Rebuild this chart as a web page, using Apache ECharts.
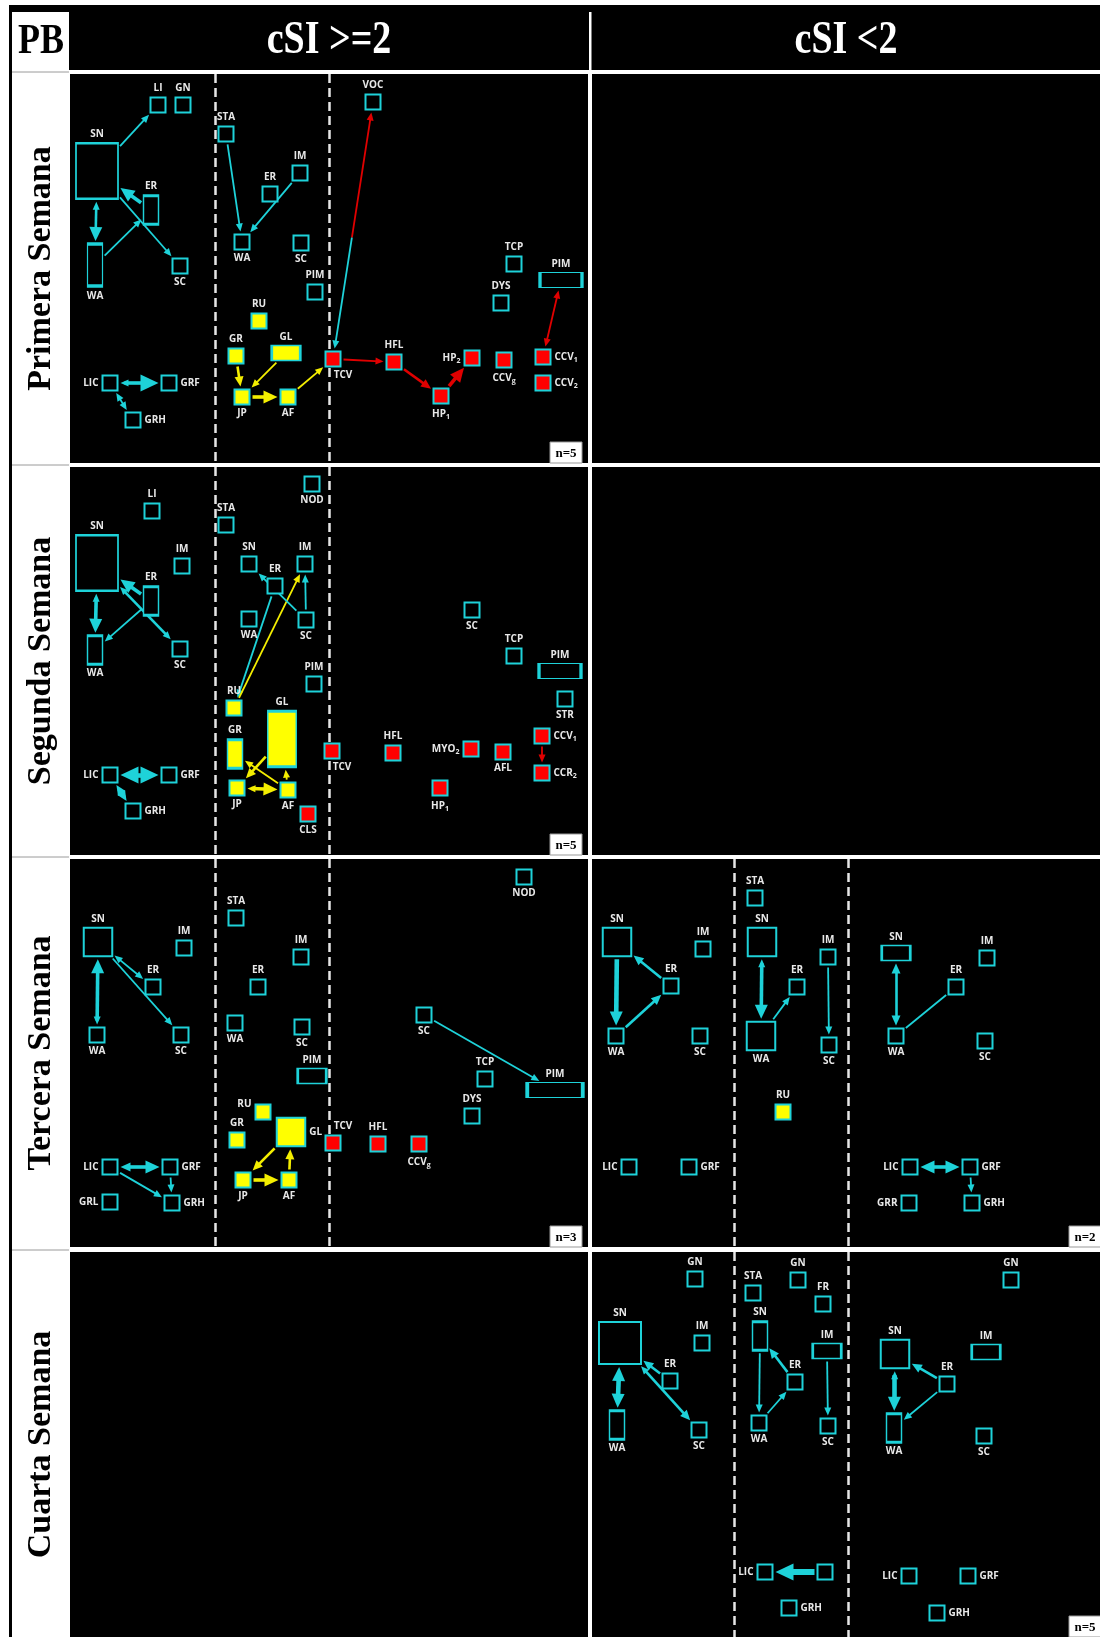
<!DOCTYPE html>
<html lang="es">
<head>
<meta charset="utf-8">
<title>PB · cSI</title>
<script src="https://cdn.jsdelivr.net/npm/echarts@6.0.0/dist/echarts.min.js"></script>
<style>
  html, body { margin: 0; padding: 0; background: #ffffff; }
  #chart { width: 1100px; height: 1637px; }
</style>
</head>
<body>
<div id="chart"></div>
<script>
// ---------- Headings ----------
const cornerLabel = 'PB';
const columnTitles = ['cSI >=2', 'cSI <2'];
const rowTitles = ['Primera Semana', 'Segunda Semana', 'Tercera Semana', 'Cuarta Semana'];
const sampleSizes = { w1hi: 'n=5', w2hi: 'n=5', w3hi: 'n=3', w3lo: 'n=2', w4lo: 'n=5' };

// Stage boundaries (dashed separators), in panel units
const stageCutsHi = [145, 259];
const stageCutsLo = [142, 256];

// ---------- Nodes: [id, x, y, width units, height units, kind] ----------
// kind: 0 = open, 1 = yellow, 2 = red.  "#n" suffix separates repeated names.
const nodesW1Hi = [
  ['LI', 88, 31, 1, 1, 0], ['GN', 113, 31, 1, 1, 0], ['SN', 27, 97, 3, 4, 0],
  ['ER', 81, 136, 1, 2, 0], ['WA', 25, 191, 1, 3, 0], ['SC', 110, 192, 1, 1, 0],
  ['LIC', 40, 309, 1, 1, 0], ['GRF', 99, 309, 1, 1, 0], ['GRH', 63, 346, 1, 1, 0],
  ['STA', 156, 60, 1, 1, 0], ['IM', 230, 99, 1, 1, 0], ['ER#2', 200, 120, 1, 1, 0],
  ['WA#2', 172, 168, 1, 1, 0], ['SC#2', 231, 169, 1, 1, 0], ['PIM', 245, 218, 1, 1, 0],
  ['RU', 189, 247, 1, 1, 1], ['GR', 166, 282, 1, 1, 1], ['GL', 216, 279, 2, 1, 1],
  ['JP', 172, 323, 1, 1, 1], ['AF', 218, 323, 1, 1, 1], ['TCV', 263, 285, 1, 1, 2],
  ['VOC', 303, 28, 1, 1, 0], ['HFL', 324, 288, 1, 1, 2], ['HP_2', 402, 284, 1, 1, 2],
  ['CCV_g', 434, 286, 1, 1, 2], ['CCV_1', 473, 283, 1, 1, 2], ['CCV_2', 473, 309, 1, 1, 2],
  ['HP_1', 371, 322, 1, 1, 2], ['TCP', 444, 190, 1, 1, 0], ['DYS', 431, 229, 1, 1, 0],
  ['PIM#2', 491, 206, 3, 1, 0]
];
// Edges: [from, to, width level, head at from, head at to, colour]
const edgesW1Hi = [
  ['SN', 'LI', 1, 0, 1, 'c'], ['ER', 'SN', 3, 0, 3, 'c'], ['SN', 'WA', 2, 1, 3, 'c'],
  ['WA', 'ER', 1, 0, 1, 'c'], ['SN', 'SC', 1, 0, 1, 'c'], ['LIC', 'GRF', 3, 1, 4, 'c'],
  ['LIC', 'GRH', 1, 1, 1, 'c'], ['STA', 'WA#2', 1, 0, 1, 'c'], ['IM', 'WA#2', 1, 0, 1, 'c'],
  ['GR', 'JP', 2, 0, 2, 'y'], ['GL', 'JP', 1, 0, 1, 'y'], ['JP', 'AF', 3, 0, 3, 'y'],
  ['AF', 'TCV', 1, 0, 1, 'y'], ['TCV', 'VOC', 1, 1, 1, 'cr'], ['TCV', 'HFL', 1, 0, 1, 'r'],
  ['HFL', 'HP_1', 2, 0, 2, 'r'], ['HP_1', 'HP_2', 3, 0, 3, 'r'], ['CCV_1', 'PIM#2', 1, 1, 1, 'r']
];

const nodesW2Hi = [
  ['LI', 82, 44, 1, 1, 0], ['SN', 27, 96, 3, 4, 0], ['IM', 112, 99, 1, 1, 0],
  ['ER', 81, 134, 1, 2, 0], ['WA', 25, 183, 1, 2, 0], ['SC', 110, 182, 1, 1, 0],
  ['LIC', 40, 308, 1, 1, 0], ['GRF', 99, 308, 1, 1, 0], ['GRH', 63, 344, 1, 1, 0],
  ['NOD', 242, 17, 1, 1, 0], ['STA', 156, 58, 1, 1, 0], ['SN#2', 179, 97, 1, 1, 0],
  ['IM#2', 235, 97, 1, 1, 0], ['ER#2', 205, 119, 1, 1, 0], ['WA#2', 179, 152, 1, 1, 0],
  ['SC#2', 236, 153, 1, 1, 0], ['PIM', 244, 217, 1, 1, 0], ['RU', 164, 241, 1, 1, 1],
  ['GL', 212, 272, 2, 4, 1], ['GR', 165, 287, 1, 2, 1], ['JP', 167, 321, 1, 1, 1],
  ['AF', 218, 323, 1, 1, 1], ['CLS', 238, 347, 1, 1, 2], ['TCV', 262, 284, 1, 1, 2],
  ['SC#3', 402, 143, 1, 1, 0], ['TCP', 444, 189, 1, 1, 0], ['PIM#2', 490, 204, 3, 1, 0],
  ['STR', 495, 232, 1, 1, 0], ['CCV_1', 472, 269, 1, 1, 2], ['CCR_2', 472, 306, 1, 1, 2],
  ['HFL', 323, 286, 1, 1, 2], ['MYO_2', 401, 282, 1, 1, 2], ['AFL', 433, 285, 1, 1, 2],
  ['HP_1', 370, 321, 1, 1, 2]
];
const edgesW2Hi = [
  ['ER', 'SN', 3, 0, 3, 'c'], ['SN', 'WA', 3, 1, 3, 'c'], ['ER', 'WA', 1, 0, 1, 'c'],
  ['SN', 'SC', 2, 1, 1, 'c'], ['LIC', 'GRF', 4, 4, 4, 'c'], ['LIC', 'GRH', 3, 2, 2, 'c'],
  ['ER#2', 'RU', 1, 0, 1, 'c'], ['RU', 'IM#2', 1, 0, 1, 'y'], ['SC#2', 'IM#2', 1, 0, 1, 'c'],
  ['SC#2', 'SN#2', 1, 0, 1, 'c'], ['AF', 'GR', 1, 0, 1, 'y'], ['GL', 'JP', 2, 0, 2, 'y'],
  ['JP', 'AF', 3, 1, 3, 'y'], ['AF', 'GL', 1, 0, 1, 'y'], ['CCV_1', 'CCR_2', 1, 0, 1, 'r']
];

const nodesW3Hi = [
  ['SN', 28, 83, 2, 2, 0], ['IM', 114, 89, 1, 1, 0], ['ER', 83, 128, 1, 1, 0],
  ['WA', 27, 176, 1, 1, 0], ['SC', 111, 176, 1, 1, 0], ['LIC', 40, 308, 1, 1, 0],
  ['GRF', 100, 308, 1, 1, 0], ['GRL', 40, 343, 1, 1, 0], ['GRH', 102, 344, 1, 1, 0],
  ['STA', 166, 59, 1, 1, 0], ['IM#2', 231, 98, 1, 1, 0], ['ER#2', 188, 128, 1, 1, 0],
  ['WA#2', 165, 164, 1, 1, 0], ['SC#2', 232, 168, 1, 1, 0], ['PIM', 242, 217, 2, 1, 0],
  ['RU', 193, 253, 1, 1, 1], ['GR', 167, 281, 1, 1, 1], ['GL', 221, 273, 2, 2, 1],
  ['JP', 173, 321, 1, 1, 1], ['AF', 219, 321, 1, 1, 1], ['TCV', 263, 284, 1, 1, 2],
  ['NOD', 454, 18, 1, 1, 0], ['SC#3', 354, 156, 1, 1, 0], ['TCP', 415, 220, 1, 1, 0],
  ['PIM#2', 485, 231, 4, 1, 0], ['DYS', 402, 257, 1, 1, 0], ['HFL', 308, 285, 1, 1, 2],
  ['CCV_g', 349, 285, 1, 1, 2]
];
const edgesW3Hi = [
  ['WA', 'SN', 3, 1, 3, 'c'], ['SN', 'ER', 1, 1, 1, 'c'], ['SN', 'SC', 1, 0, 1, 'c'],
  ['LIC', 'GRF', 3, 2, 3, 'c'], ['LIC', 'GRH', 1, 0, 1, 'c'], ['GRF', 'GRH', 1, 0, 1, 'c'],
  ['GL', 'JP', 2, 0, 2, 'y'], ['JP', 'AF', 3, 0, 3, 'y'], ['AF', 'GL', 2, 0, 2, 'y'],
  ['SC#3', 'PIM#2', 1, 0, 1, 'c']
];

const nodesW3Lo = [
  ['SN', 25, 83, 2, 2, 0], ['IM', 111, 90, 1, 1, 0], ['ER', 79, 127, 1, 1, 0],
  ['WA', 24, 177, 1, 1, 0], ['SC', 108, 177, 1, 1, 0], ['LIC', 37, 308, 1, 1, 0],
  ['GRF', 97, 308, 1, 1, 0], ['STA', 163, 39, 1, 1, 0], ['SN#2', 170, 83, 2, 2, 0],
  ['IM#2', 236, 98, 1, 1, 0], ['ER#2', 205, 128, 1, 1, 0], ['WA#2', 169, 177, 2, 2, 0],
  ['SC#2', 237, 186, 1, 1, 0], ['RU', 191, 253, 1, 1, 1], ['SN#3', 304, 94, 2, 1, 0],
  ['IM#3', 395, 99, 1, 1, 0], ['ER#3', 364, 128, 1, 1, 0], ['WA#3', 304, 177, 1, 1, 0],
  ['SC#3', 393, 182, 1, 1, 0], ['LIC#2', 318, 308, 1, 1, 0], ['GRF#2', 378, 308, 1, 1, 0],
  ['GRR', 317, 344, 1, 1, 0], ['GRH', 380, 344, 1, 1, 0]
];
const edgesW3Lo = [
  ['SN', 'WA', 4, 0, 3, 'c'], ['WA', 'ER', 2, 0, 2, 'c'], ['ER', 'SN', 2, 0, 2, 'c'],
  ['SN#2', 'WA#2', 3, 1, 3, 'c'], ['WA#2', 'ER#2', 1, 0, 1, 'c'], ['IM#2', 'SC#2', 1, 0, 1, 'c'],
  ['SN#3', 'WA#3', 2, 2, 2, 'c'], ['WA#3', 'ER#3', 1, 0, 0, 'c'], ['LIC#2', 'GRF#2', 3, 3, 3, 'c'],
  ['GRF#2', 'GRH', 1, 0, 1, 'c']
];

const nodesW4Lo = [
  ['GN', 103, 27, 1, 1, 0], ['SN', 28, 91, 3, 3, 0], ['IM', 110, 91, 1, 1, 0],
  ['ER', 78, 129, 1, 1, 0], ['WA', 25, 173, 1, 2, 0], ['SC', 107, 178, 1, 1, 0],
  ['STA', 161, 41, 1, 1, 0], ['GN#2', 206, 28, 1, 1, 0], ['FR', 231, 52, 1, 1, 0],
  ['SN#2', 168, 84, 1, 2, 0], ['IM#2', 235, 99, 2, 1, 0], ['ER#2', 203, 130, 1, 1, 0],
  ['WA#2', 167, 171, 1, 1, 0], ['SC#2', 236, 174, 1, 1, 0], ['LIC', 173, 320, 1, 1, 0],
  ['#blank', 233, 320, 1, 1, 0], ['GRH', 197, 356, 1, 1, 0], ['GN#3', 419, 28, 1, 1, 0],
  ['SN#3', 303, 102, 2, 2, 0], ['IM#3', 394, 100, 2, 1, 0], ['ER#3', 355, 132, 1, 1, 0],
  ['WA#3', 302, 176, 1, 2, 0], ['SC#3', 392, 184, 1, 1, 0], ['LIC#2', 317, 324, 1, 1, 0],
  ['GRF', 376, 324, 1, 1, 0], ['GRH#2', 345, 361, 1, 1, 0]
];
const edgesW4Lo = [
  ['SN', 'WA', 4, 3, 3, 'c'], ['ER', 'SN', 2, 0, 2, 'c'], ['SN', 'SC', 2, 1, 2, 'c'],
  ['SN#2', 'WA#2', 1, 0, 1, 'c'], ['ER#2', 'SN#2', 2, 0, 2, 'c'], ['WA#2', 'ER#2', 1, 0, 1, 'c'],
  ['IM#2', 'SC#2', 1, 0, 1, 'c'], ['#blank', 'LIC', 5, 0, 4, 'c'], ['SN#3', 'WA#3', 4, 1, 3, 'c'],
  ['ER#3', 'SN#3', 2, 0, 2, 'c'], ['ER#3', 'WA#3', 1, 0, 1, 'c']
];

// ---------- Styling ----------
const CYAN = '#1ed2d9';
const FILL = ['#000000', '#ffff00', '#ff0000'];
const LINE_COLOR = { c: CYAN, y: '#f4ee00', r: '#e00000' };
const LABEL_COLOR = '#e8e8e8';
const LABEL_FONT = '"Open Sans", "DejaVu Sans", sans-serif';
const SERIF = '"Liberation Serif", "DejaVu Serif", serif';
const HEAD = [null, [7, 8], [9, 10], [13, 14], [17, 18]];
const WIDTH = [0, 1.8, 2.6, 3.6, 4.6, 6];
const GAP = 3;
const SPLIT = 0.47;        // colour change along the two-tone edge
const unitPx = n => 15 + (n - 1) * 13.5;

const SIDE_BOTTOM = new Set(['WA', 'SC', 'JP', 'AF', 'NOD', 'CCV_g', 'HP_1', 'AFL', 'STR', 'CLS']);
const SIDE_LEFT = new Set(['LIC', 'HP_2', 'MYO_2', 'GRL', 'GRR']);
const SIDE_RIGHT = new Set(['GRF', 'GRH', 'CCV_1', 'CCV_2', 'CCR_2']);
function defaultSide(name) {
  if (SIDE_BOTTOM.has(name)) return ['bottom'];
  if (SIDE_LEFT.has(name)) return ['left'];
  if (SIDE_RIGHT.has(name)) return ['right'];
  return ['top'];
}
function labelText(name) {
  if (!name) return '';
  const m = name.match(/^(.*)_(.)$/);
  return m ? '{m|' + m[1] + '}{s|' + m[2] + '}' : '{m|' + name + '}';
}
const RICH = {
  m: { color: LABEL_COLOR, fontSize: 10, fontWeight: 'bold', fontFamily: LABEL_FONT },
  s: { color: LABEL_COLOR, fontSize: 7, fontWeight: 'bold', fontFamily: LABEL_FONT, padding: [6, 0, 0, 0] }
};

// ---------- Panel layout ----------
const COLS = [{ left: 70, width: 518 }, { left: 592, width: 508 }];
const ROWS = [
  { top: 74, height: 389 }, { top: 467, height: 388 },
  { top: 859, height: 388 }, { top: 1252, height: 385 }
];
const panels = [
  { row: 0, col: 0, nodes: nodesW1Hi, edges: edgesW1Hi, cuts: stageCutsHi, n: sampleSizes.w1hi, labels: { TCV: ['bottom', [10, 0]] } },
  { row: 0, col: 1 },
  { row: 1, col: 0, nodes: nodesW2Hi, edges: edgesW2Hi, cuts: stageCutsHi, n: sampleSizes.w2hi, labels: { TCV: ['bottom', [10, 0]] } },
  { row: 1, col: 1 },
  { row: 2, col: 0, nodes: nodesW3Hi, edges: edgesW3Hi, cuts: stageCutsHi, n: sampleSizes.w3hi, labels: { TCV: ['top', [10, 0]], GL: ['right'], RU: ['left', [0, -8]] } },
  { row: 2, col: 1, nodes: nodesW3Lo, edges: edgesW3Lo, cuts: stageCutsLo, n: sampleSizes.w3lo },
  { row: 3, col: 0 },
  { row: 3, col: 1, nodes: nodesW4Lo, edges: edgesW4Lo, cuts: stageCutsLo, n: sampleSizes.w4lo }
];

// ---------- Builders ----------
function nodeItems(nodes, overrides) {
  return nodes.map(([id, x, y, wu, hu, kind]) => {
    const name = id.split('#')[0];
    const side = (overrides && overrides[name]) || defaultSide(name);
    return {
      value: [x, y],
      symbolSize: [unitPx(wu), unitPx(hu)],
      itemStyle: { color: FILL[kind] },
      label: { show: !!name, position: side[0], offset: side[1] || [0, 0], formatter: labelText(name) }
    };
  });
}

function exitDist(node, ux, uy) {
  const hw = unitPx(node[3]) / 2, hh = unitPx(node[4]) / 2;
  const tx = Math.abs(ux) > 1e-6 ? hw / Math.abs(ux) : Infinity;
  const ty = Math.abs(uy) > 1e-6 ? hh / Math.abs(uy) : Infinity;
  return Math.min(tx, ty);
}

function segment(p0, p1, w, hf, ht, color) {
  return {
    coords: [p0, p1],
    symbol: [hf ? 'triangle' : 'none', ht ? 'triangle' : 'none'],
    symbolSize: [hf ? HEAD[hf] : [1, 1], ht ? HEAD[ht] : [1, 1]],
    lineStyle: { color: color, width: WIDTH[w], opacity: 1, curveness: 0 }
  };
}

function edgeItems(nodes, edges) {
  const at = {};
  nodes.forEach(n => { at[n[0]] = n; });
  const items = [];
  edges.forEach(([a, b, w, hf, ht, col]) => {
    const A = at[a], B = at[b];
    const dx = B[1] - A[1], dy = B[2] - A[2];
    const len = Math.hypot(dx, dy);
    const ux = dx / len, uy = dy / len;
    const offA = exitDist(A, ux, uy) + GAP + (hf ? HEAD[hf][1] / 2 : 0);
    const offB = exitDist(B, ux, uy) + GAP + (ht ? HEAD[ht][1] / 2 : 0);
    const p0 = [A[1] + ux * offA, A[2] + uy * offA];
    const p1 = [B[1] - ux * offB, B[2] - uy * offB];
    if (col === 'cr') {
      const mid = [p0[0] + (p1[0] - p0[0]) * SPLIT, p0[1] + (p1[1] - p0[1]) * SPLIT];
      items.push(segment(mid, p0, w, 0, hf, LINE_COLOR.c));
      items.push(segment(mid, p1, w, 0, ht, LINE_COLOR.r));
    } else {
      items.push(segment(p0, p1, w, hf, ht, LINE_COLOR[col]));
    }
  });
  return items;
}

const grid = [], xAxis = [], yAxis = [], series = [], graphic = [];

// Frame: header band, left rule, corner cell
graphic.push(
  { type: 'rect', z: 1, shape: { x: 9, y: 5, width: 1091, height: 65 }, style: { fill: '#000' } },
  { type: 'rect', z: 1, shape: { x: 9, y: 5, width: 3, height: 1632 }, style: { fill: '#000' } },
  { type: 'rect', z: 2, shape: { x: 12, y: 12, width: 57, height: 60 }, style: { fill: '#fff' } },
  { type: 'rect', z: 2, shape: { x: 589, y: 12, width: 2.5, height: 58 }, style: { fill: '#fff' } },
  { type: 'text', z: 3, x: 41, y: 42, scaleY: 1.2,
    style: { text: cornerLabel, fill: '#000', font: 'bold 36px ' + SERIF, align: 'center', verticalAlign: 'middle' } }
);
columnTitles.forEach((t, ci) => {
  graphic.push({ type: 'text', z: 3, x: COLS[ci].left + COLS[ci].width / 2, y: 41, scaleY: 1.2,
    style: { text: t, fill: '#fff', font: 'bold 38px ' + SERIF, align: 'center', verticalAlign: 'middle' } });
});
rowTitles.forEach((t, ri) => {
  const r = ROWS[ri];
  graphic.push({ type: 'line', z: 2, shape: { x1: 12, y1: r.top - 2, x2: 69, y2: r.top - 2 }, style: { stroke: '#9a9a9a', lineWidth: 1 } });
  graphic.push({ type: 'text', z: 3, x: 41, y: r.top + r.height / 2, rotation: Math.PI / 2,
    style: { text: t, fill: '#000', font: 'bold 34px ' + SERIF, align: 'center', verticalAlign: 'middle' } });
});

panels.forEach((p, i) => {
  const c = COLS[p.col], r = ROWS[p.row];
  grid.push({ left: c.left, top: r.top, width: c.width, height: r.height, show: true,
    backgroundColor: '#000', borderWidth: 0, containLabel: false, outerBoundsMode: 'none' });
  xAxis.push({ gridIndex: i, type: 'value', min: 0, max: c.width, show: false });
  yAxis.push({ gridIndex: i, type: 'value', min: 0, max: r.height, inverse: true, show: false });
  if (!p.nodes) return;

  series.push({
    type: 'lines', coordinateSystem: 'cartesian2d', xAxisIndex: i, yAxisIndex: i,
    z: 8, silent: true, polyline: false, symbol: ['none', 'triangle'], symbolSize: 8,
    lineStyle: { opacity: 1, curveness: 0 },
    data: edgeItems(p.nodes, p.edges)
  });
  series.push({
    type: 'scatter', xAxisIndex: i, yAxisIndex: i, z: 10, silent: true,
    symbol: 'rect',
    itemStyle: { borderColor: CYAN, borderWidth: 2, opacity: 1 },
    label: { show: true, distance: 3, rich: RICH },
    emphasis: { disabled: true },
    data: nodeItems(p.nodes, p.labels),
    markLine: {
      silent: true, z: 1, symbol: ['none', 'none'], label: { show: false },
      emphasis: { disabled: true },
      lineStyle: { color: '#e6e6e6', width: 2.5, type: [9, 5], opacity: 1 },
      data: p.cuts.map(v => ({ xAxis: v }))
    }
  });

  const tagW = 32, tagH = 21;
  const tx = p.col === 0 ? c.left + c.width - 38 : c.left + c.width - 31;
  graphic.push({
    type: 'group', x: tx, y: r.top + r.height - tagH, z: 50,
    children: [
      { type: 'rect', z: 50, shape: { x: 0, y: 0, width: tagW, height: tagH }, style: { fill: '#fff', stroke: '#999', lineWidth: 1 } },
      { type: 'text', z: 51, x: tagW / 2, y: tagH / 2 + 1,
        style: { text: p.n, fill: '#000', font: 'bold 13px ' + SERIF, align: 'center', verticalAlign: 'middle' } }
    ]
  });
});

const chart = echarts.init(document.getElementById('chart'), null, { renderer: 'canvas' });
chart.setOption({
  animation: false,
  backgroundColor: '#ffffff',
  grid, xAxis, yAxis, series, graphic
});
</script>
</body>
</html>
